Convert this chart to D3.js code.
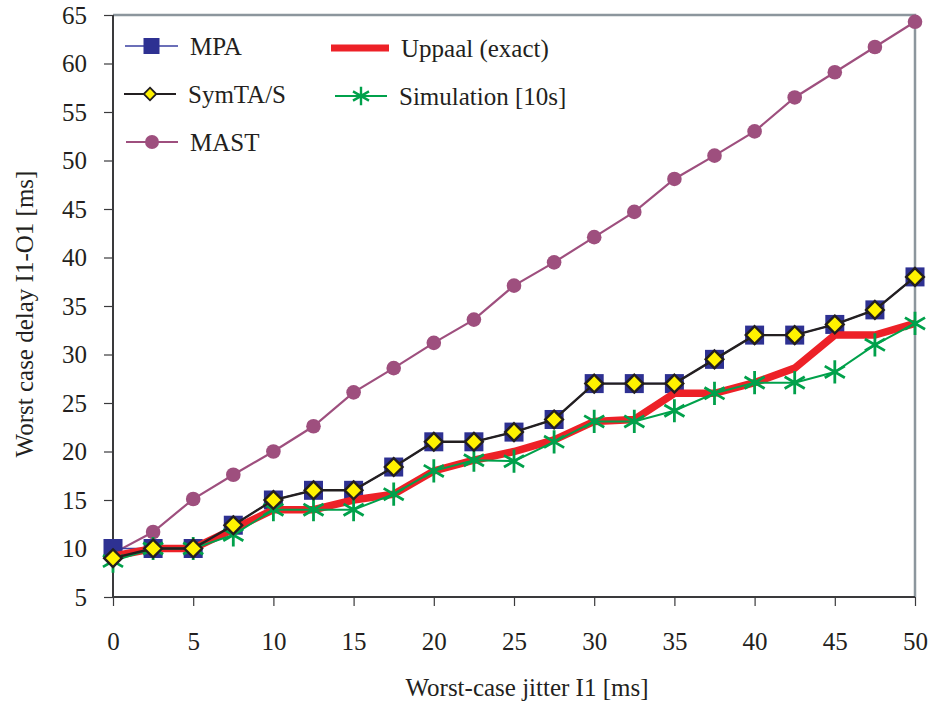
<!DOCTYPE html>
<html>
<head>
<meta charset="utf-8">
<script src="https://cdn.jsdelivr.net/npm/d3@7"></script>
<style>
  html, body { margin: 0; padding: 0; background: #fff; }
  svg { display: block; }
  text { font-family: "Liberation Serif", "Times New Roman", serif; fill: #231f20; }
</style>
</head>
<body>
<svg id="chart" width="928" height="702"></svg>
<script>
// Worst-case jitter on input I1 (ms)
const jitter = [0, 2.5, 5, 7.5, 10, 12.5, 15, 17.5, 20, 22.5, 25, 27.5, 30, 32.5, 35, 37.5, 40, 42.5, 45, 47.5, 50];

// Worst-case delay I1-O1 (ms) per analysis method
const mpa        = [10, 10, 10, 12.4, 15, 16, 16, 18.4, 21, 21, 22, 23.3, 27, 27, 27, 29.5, 32, 32, 33.1, 34.6, 38];
const symta      = [9, 10, 10, 12.4, 15, 16, 16, 18.4, 21, 21, 22, 23.3, 27, 27, 27, 29.5, 32, 32, 33.1, 34.6, 38];
const mast       = [9.5, 11.7, 15.1, 17.6, 20, 22.6, 26.1, 28.6, 31.2, 33.6, 37.1, 39.5, 42.1, 44.7, 48.1, 50.5, 53, 56.5, 59.1, 61.7, 64.3];
const uppaal     = [9.2, 10, 10, 12, 14, 14, 15, 15.6, 18, 19.1, 20, 21.2, 23.1, 23.3, 26, 26, 27.1, 28.6, 32, 32, 33.2];
const simulation = [8.7, 10, 10, 11.4, 14, 14, 14, 15.6, 18, 19.1, 19, 21, 23.1, 23.1, 24.2, 26, 27.1, 27.1, 28.2, 31, 33.2];

const xTicks = [0, 5, 10, 15, 20, 25, 30, 35, 40, 45, 50];
const yTicks = [5, 10, 15, 20, 25, 30, 35, 40, 45, 50, 55, 60, 65];

const FONT = 25;
const svg = d3.select("#chart");
const x = d3.scaleLinear().domain([0, 50]).range([113, 915]);
const y = d3.scaleLinear().domain([5, 65]).range([597, 15]);

// frame: gray top/right border
svg.append("path")
  .attr("d", `M${x(0)},${y(65)}H${x(50)}V${y(5)}`)
  .attr("fill", "none").attr("stroke", "#8c969d").attr("stroke-width", 2.5);

// axes
const yAxis = svg.append("g").attr("transform", `translate(${x(0)},0)`)
  .call(d3.axisLeft(y).tickValues(yTicks).tickSize(9).tickPadding(17).tickFormat(d3.format("d")));
const xAxis = svg.append("g").attr("transform", `translate(0,${y(5)})`)
  .call(d3.axisBottom(x).tickValues(xTicks).tickSize(9).tickPadding(26).tickFormat(d3.format("d")));
[xAxis, yAxis].forEach(g => {
  g.select(".domain").attr("stroke", "#3a3a3c").attr("stroke-width", 2);
  g.selectAll(".tick line").attr("stroke", "#3a3a3c").attr("stroke-width", 1.2);
  g.selectAll(".tick text").attr("font-size", FONT).attr("fill", "#231f20")
    .style("font-family", "'Liberation Serif', 'Times New Roman', serif");
});
xAxis.select(".domain").attr("d", `M${x(0)},0H${x(50)}`);
yAxis.select(".domain").attr("d", `M0,${y(5)}V${y(65)}`);

// axis titles
svg.append("text").attr("x", 527).attr("y", 696).attr("text-anchor", "middle")
  .attr("font-size", FONT).text("Worst-case jitter I1 [ms]");
svg.append("text").attr("transform", `translate(33,314) rotate(-90)`)
  .attr("text-anchor", "middle").attr("font-size", FONT).text("Worst case delay I1-O1 [ms]");

const line = vals => d3.line().x((d, i) => x(jitter[i])).y(d => y(d))(vals);

// colours
const cMPA = "#2e3192", cMAST = "#9e4f7e", cRed = "#ed2127", cGreen = "#00a14b";

// MAST
svg.append("path").attr("d", line(mast)).attr("fill", "none").attr("stroke", cMAST).attr("stroke-width", 2.2);
svg.append("g").selectAll("circle").data(mast).join("circle")
  .attr("cx", (d, i) => x(jitter[i])).attr("cy", d => y(d)).attr("r", 7.3).attr("fill", cMAST);

// MPA
svg.append("path").attr("d", line(mpa)).attr("fill", "none").attr("stroke", "#3a3fa0").attr("stroke-width", 1.5);
svg.append("g").selectAll("rect").data(mpa).join("rect")
  .attr("x", (d, i) => x(jitter[i]) - 9.5).attr("y", d => y(d) - 9.5)
  .attr("width", 19).attr("height", 19).attr("fill", cMPA);

// Uppaal exact
svg.append("path").attr("d", line(uppaal)).attr("fill", "none").attr("stroke", cRed)
  .attr("stroke-width", 7.5).attr("stroke-linejoin", "miter");

// Simulation
const star = d3.symbol().type(d3.symbolAsterisk).size(380);
svg.append("path").attr("d", line(simulation)).attr("fill", "none").attr("stroke", cGreen).attr("stroke-width", 2);
svg.append("g").selectAll("path").data(simulation).join("path")
  .attr("d", star).attr("transform", (d, i) => `translate(${x(jitter[i])},${y(d)})`)
  .attr("fill", "none").attr("stroke", cGreen).attr("stroke-width", 2.8);

// SymTA/S
svg.append("path").attr("d", line(symta)).attr("fill", "none").attr("stroke", "#231f20").attr("stroke-width", 2.4);
const diamond = d3.symbol().type(d3.symbolDiamond2).size(200);
svg.append("g").selectAll("path").data(symta).join("path")
  .attr("d", diamond).attr("transform", (d, i) => `translate(${x(jitter[i])},${y(d)})`)
  .attr("fill", "#fff200").attr("stroke", "#231f20").attr("stroke-width", 2.4);

// legend
const legend = svg.append("g");
function legendEntry(x0, x1, yy, label, draw) {
  draw(legend, x0, x1, yy);
  legend.append("text").attr("x", x1 + 12).attr("y", yy + 9).attr("font-size", FONT).text(label);
}
legendEntry(125, 178, 46, "MPA", (g, a, b, c) => {
  g.append("line").attr("x1", a).attr("x2", b).attr("y1", c).attr("y2", c).attr("stroke", "#3a3fa0").attr("stroke-width", 1.5);
  g.append("rect").attr("x", (a + b) / 2 - 8).attr("y", c - 8).attr("width", 16).attr("height", 16).attr("fill", cMPA);
});
legendEntry(124, 176, 94, "SymTA/S", (g, a, b, c) => {
  g.append("line").attr("x1", a).attr("x2", b).attr("y1", c).attr("y2", c).attr("stroke", "#231f20").attr("stroke-width", 2);
  g.append("path").attr("d", d3.symbol().type(d3.symbolDiamond2).size(100))
    .attr("transform", `translate(${(a + b) / 2},${c})`).attr("fill", "#fff200").attr("stroke", "#231f20").attr("stroke-width", 1.8);
});
legendEntry(126, 178, 142, "MAST", (g, a, b, c) => {
  g.append("line").attr("x1", a).attr("x2", b).attr("y1", c).attr("y2", c).attr("stroke", cMAST).attr("stroke-width", 2);
  g.append("circle").attr("cx", (a + b) / 2).attr("cy", c).attr("r", 7).attr("fill", cMAST);
});
legendEntry(331, 389, 48, "Uppaal (exact)", (g, a, b, c) => {
  g.append("line").attr("x1", a).attr("x2", b).attr("y1", c).attr("y2", c).attr("stroke", cRed).attr("stroke-width", 7);
});
legendEntry(335, 387, 96, "Simulation [10s]", (g, a, b, c) => {
  g.append("line").attr("x1", a).attr("x2", b).attr("y1", c).attr("y2", c).attr("stroke", cGreen).attr("stroke-width", 2);
  g.append("path").attr("d", d3.symbol().type(d3.symbolAsterisk).size(240))
    .attr("transform", `translate(${(a + b) / 2},${c})`).attr("fill", "none").attr("stroke", cGreen).attr("stroke-width", 2.4);
});
</script>
</body>
</html>
